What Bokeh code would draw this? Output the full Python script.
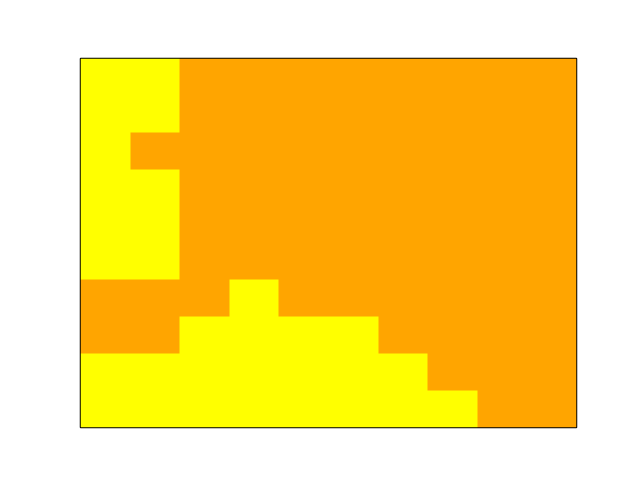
import numpy as np
from bokeh.plotting import figure
from bokeh.models import Range1d, LinearColorMapper
from bokeh.embed import file_html
from bokeh.resources import INLINE

# grid values, row 0 = top row; 1 = yellow, 0 = orange
grid_rows = [
    [1, 1, 0, 0, 0, 0, 0, 0, 0, 0],
    [1, 1, 0, 0, 0, 0, 0, 0, 0, 0],
    [1, 0, 0, 0, 0, 0, 0, 0, 0, 0],
    [1, 1, 0, 0, 0, 0, 0, 0, 0, 0],
    [1, 1, 0, 0, 0, 0, 0, 0, 0, 0],
    [1, 1, 0, 0, 0, 0, 0, 0, 0, 0],
    [0, 0, 0, 1, 0, 0, 0, 0, 0, 0],
    [0, 0, 1, 1, 1, 1, 0, 0, 0, 0],
    [1, 1, 1, 1, 1, 1, 1, 0, 0, 0],
    [1, 1, 1, 1, 1, 1, 1, 1, 0, 0],
]
palette = ["#ffa500", "#ffff00"]

n_rows = len(grid_rows)
n_cols = len(grid_rows[0])
img = np.array(grid_rows[::-1], dtype=float)  # bottom row first for Bokeh

p = figure(width=640, height=480, output_backend="svg", toolbar_location=None,
           x_range=Range1d(0, n_cols), y_range=Range1d(0, n_rows),
           min_border_left=80, min_border_right=64, min_border_top=58, min_border_bottom=53)
mapper = LinearColorMapper(palette=palette, low=0, high=1)
p.image(image=[img], x=0, y=0, dw=n_cols, dh=n_rows, color_mapper=mapper)
p.xaxis.visible = False
p.yaxis.visible = False
p.grid.visible = False
p.outline_line_color = "black"
p.outline_line_width = 1.5
p.outline_line_alpha = 1
p.background_fill_color = "white"
p.border_fill_color = "white"

open("out.html", "w").write(file_html(p, INLINE))
